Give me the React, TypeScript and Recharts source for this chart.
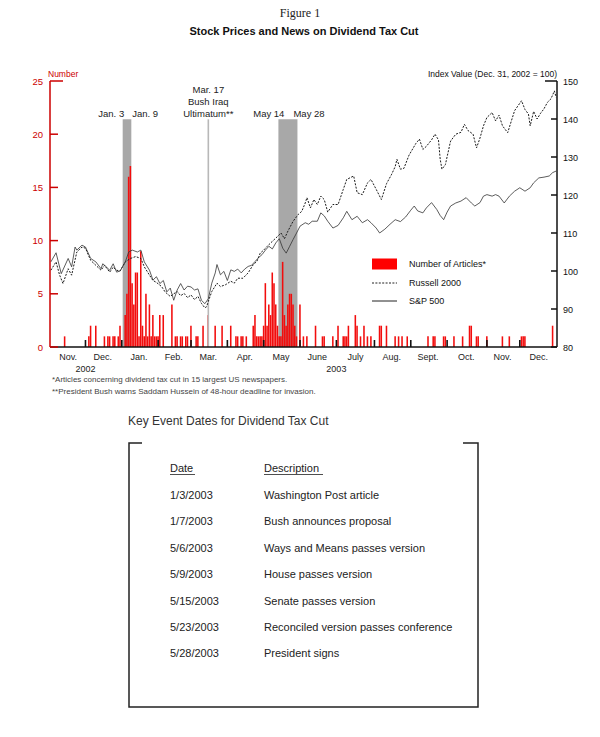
import React from "react";
import {
  ComposedChart,
  Bar,
  Line,
  XAxis,
  YAxis,
  ReferenceArea,
  ReferenceLine,
  Legend,
} from "recharts";

// x axis = trading days, Nov 1 2002 (0) .. Dec 31 2003 (292)
const TRADING_DAYS = 293;
const monthStarts = [0, 20, 41, 62, 81, 102, 123, 144, 165, 187, 208, 229, 252, 271];
const monthMids = [10, 30, 51, 71, 91, 112, 133, 154, 176, 197, 218, 240, 261, 282];
const monthLabels = ["Nov.", "Dec.", "Jan.", "Feb.", "Mar.", "Apr.", "May", "June", "July", "Aug.", "Sept.", "Oct.", "Nov.", "Dec."];
const yearTicks = [20, 165];
const yearLabels = ["2002", "2003"];

const leftTicks = [0, 5, 10, 15, 20, 25];
const rightTicks = [80, 90, 100, 110, 120, 130, 140, 150];

// [trading day, number of articles]
const articleCounts: [number, number][] = [
  [8, 1], [22, 1], [23, 2], [26, 2], [31, 1], [33, 1], [34, 1], [36, 1], [37, 1], [39, 1], [40, 2],
  [43, 3], [44, 5], [45, 16], [46, 17], [47, 6], [48, 4], [49, 7], [50, 7], [51, 1], [52, 9], [53, 2],
  [54, 1], [55, 5], [56, 1], [57, 4], [58, 1], [59, 3], [60, 1], [61, 1], [62, 1], [63, 3], [65, 3],
  [70, 4], [72, 1], [73, 1], [75, 1], [76, 1], [78, 1], [79, 1], [81, 2], [84, 1], [85, 1], [88, 2],
  [91, 3], [95, 2], [99, 2], [104, 2], [107, 1], [108, 1], [110, 1], [111, 1], [113, 1],
  [117, 2], [118, 3], [119, 1], [120, 1], [121, 1], [122, 1], [123, 2], [124, 6], [125, 2], [126, 4],
  [127, 3], [128, 7], [129, 6], [130, 4], [131, 2], [132, 1], [133, 1], [134, 8], [135, 3], [136, 2],
  [137, 4], [138, 5], [139, 5], [140, 4], [141, 2], [142, 1], [144, 4],
  [146, 1], [148, 1], [153, 2], [157, 1], [158, 1], [163, 1], [166, 2], [169, 1], [170, 1], [171, 1],
  [172, 2], [176, 3], [177, 2], [179, 1], [181, 2], [183, 1], [185, 1], [190, 2], [191, 2], [194, 2],
  [199, 1], [201, 1], [203, 1], [206, 1], [218, 1], [221, 1], [222, 1], [227, 1], [228, 1], [233, 1],
  [238, 1], [242, 2], [243, 2], [246, 1], [247, 1], [252, 1], [261, 1], [265, 1], [272, 1], [273, 1],
  [274, 1], [290, 2],
];

// [trading day, index value (Dec 31 2002 = 100)]
const russell2000: [number, number][] = [
  [0, 100.2], [3, 102.4], [5, 99.0], [7, 96.7], [10, 100.6], [12, 98.9], [15, 105.0], [18, 106.3],
  [20, 106.0], [23, 102.8], [26, 101.5], [29, 100.2], [31, 101.5], [34, 99.7], [36, 101.0], [38, 100.2],
  [40, 100.0], [43, 102.4], [46, 103.3], [49, 103.8], [52, 103.3], [54, 101.1], [57, 98.9], [59, 97.5],
  [61, 97.0], [64, 95.9], [66, 94.5], [69, 93.3], [71, 94.0], [73, 94.6], [75, 93.5], [77, 94.1],
  [79, 93.0], [81, 93.7], [83, 92.5], [85, 93.3], [87, 91.5], [89, 90.3], [90, 90.6], [91, 92.0],
  [93, 94.6], [96, 96.8], [98, 95.9], [101, 96.4], [104, 97.3], [106, 96.8], [108, 98.1], [111, 98.1],
  [114, 99.5], [117, 101.7], [119, 102.5], [121, 104.7], [123, 105.5], [125, 106.5], [128, 107.8],
  [131, 109.1], [133, 110.0], [135, 108.5], [137, 110.5], [140, 113.1], [143, 114.9], [145, 115.7],
  [147, 117.9], [148, 119.3], [150, 116.6], [152, 118.8], [154, 117.5], [156, 119.7], [158, 118.8],
  [160, 115.5], [163, 117.5], [166, 117.5], [169, 121.5], [171, 124.1], [175, 125.0], [177, 120.6],
  [180, 120.1], [183, 123.2], [185, 124.1], [188, 121.5], [191, 118.8], [194, 123.0], [197, 125.5],
  [199, 127.5], [200, 129.4], [202, 126.8], [204, 127.0], [207, 130.5], [211, 133.6], [213, 134.7],
  [215, 132.0], [217, 132.8], [220, 134.5], [222, 136.0], [224, 134.5], [225, 129.4], [226, 126.8],
  [228, 128.0], [231, 134.2], [234, 136.0], [237, 136.5], [239, 138.6], [241, 137.0], [244, 136.0],
  [246, 132.4], [248, 135.0], [250, 138.2], [252, 140.4], [255, 141.7], [257, 139.5], [259, 141.0],
  [261, 138.2], [264, 136.4], [266, 139.3], [268, 142.2], [270, 143.5], [272, 144.8], [274, 142.5],
  [276, 141.3], [277, 138.2], [279, 142.0], [281, 140.0], [283, 141.5], [285, 142.7], [287, 144.4],
  [289, 145.3], [291, 147.4], [292, 145.7],
];

const sp500: [number, number][] = [
  [0, 102.4], [3, 104.8], [6, 99.3], [10, 103.3], [12, 101.1], [14, 106.3], [15, 105.5], [18, 106.8],
  [20, 106.3], [23, 103.3], [26, 102.4], [29, 100.6], [30, 101.9], [32, 101.1], [34, 100.2], [36, 101.9],
  [38, 99.7], [40, 100.0], [43, 102.4], [45, 105.0], [47, 105.5], [50, 105.0], [52, 105.5], [54, 102.4],
  [57, 100.2], [59, 97.6], [61, 98.5], [63, 96.7], [65, 97.5], [67, 94.5], [69, 95.5], [71, 92.3],
  [73, 95.0], [75, 96.7], [77, 95.0], [79, 96.0], [81, 95.8], [83, 95.0], [85, 95.3], [87, 92.3],
  [89, 91.4], [91, 92.7], [93, 96.8], [95, 99.5], [96, 101.7], [98, 99.0], [100, 99.9], [102, 97.5],
  [104, 100.3], [106, 99.9], [108, 100.5], [110, 99.5], [112, 100.5], [114, 101.2], [116, 101.5],
  [118, 102.5], [120, 103.5], [122, 104.3], [124, 105.5], [126, 106.5], [128, 105.8], [130, 107.4],
  [132, 108.5], [134, 106.0], [136, 104.7], [138, 106.5], [140, 108.3], [142, 110.0], [144, 111.8],
  [147, 112.7], [149, 112.3], [151, 113.1], [154, 113.1], [156, 115.3], [158, 114.5], [160, 113.1],
  [163, 111.3], [166, 112.0], [169, 114.0], [171, 115.7], [174, 113.5], [177, 114.4], [180, 112.7],
  [183, 113.5], [185, 112.7], [188, 111.3], [190, 110.0], [193, 111.0], [196, 112.3], [199, 113.5],
  [202, 113.0], [205, 114.2], [208, 116.0], [210, 117.1], [212, 115.8], [215, 115.3], [217, 116.6],
  [220, 118.0], [223, 116.2], [225, 114.6], [227, 113.5], [229, 115.5], [231, 117.1], [234, 117.9],
  [237, 118.4], [240, 119.3], [243, 117.9], [245, 117.1], [248, 118.0], [250, 119.7], [252, 120.1],
  [255, 119.7], [257, 120.1], [259, 119.7], [262, 117.9], [265, 119.7], [268, 121.0], [271, 121.9],
  [274, 121.0], [277, 121.9], [279, 123.2], [282, 124.5], [285, 124.7], [288, 125.0], [290, 125.9],
  [292, 126.3],
];

// shaded news windows and the Iraq ultimatum (trading days)
const janWindow = [42, 46];
const mayWindow = [132, 142];
const ultimatumDay = 91;
const shadeTop = 21.4; // in article units

const eventDates = ["1/3/2003", "1/7/2003", "5/6/2003", "5/9/2003", "5/15/2003", "5/23/2003", "5/28/2003"];
const eventDescriptions = [
  "Washington Post article",
  "Bush announces proposal",
  "Ways and Means passes version",
  "House passes version",
  "Senate passes version",
  "Reconciled version passes conference",
  "President signs",
];

type Row = { day: number; articles: number | null; russell: number | null; sp500: number | null };
const chartData: Row[] = Array.from({ length: TRADING_DAYS }, (_, day) => ({
  day,
  articles: null,
  russell: null,
  sp500: null,
}));
articleCounts.forEach(([d, n]) => (chartData[d].articles = n));
russell2000.forEach(([d, v]) => (chartData[d].russell = v));
sp500.forEach(([d, v]) => (chartData[d].sp500 = v));

const RED = "#cc0000";
const FONT = "'Liberation Sans', Arial, Helvetica, sans-serif";

function LeftTick({ x, y, payload }: any) {
  const v = payload.value;
  return (
    <g>
      <line x1={x} x2={x + (v === 25 ? 13 : 8)} y1={y} y2={y} stroke={RED} strokeWidth={1.5} />
      <text x={x - 7} y={y + 3.5} textAnchor="end" fontSize={9.5} fill={RED}>
        {v}
      </text>
    </g>
  );
}

function RightTick({ x, y, payload }: any) {
  const v = payload.value;
  return (
    <g>
      <line x1={x} x2={x - (v === 150 ? 12 : 6)} y1={y} y2={y} stroke="#111" strokeWidth={1.5} />
      <text x={x + 6} y={y + 3.5} textAnchor="start" fontSize={9} fill="#111">
        {v}
      </text>
    </g>
  );
}

function MonthTick({ x, y, payload }: any) {
  const v = payload.value as number;
  const mi = monthMids.indexOf(v);
  const yi = yearTicks.indexOf(v);
  return (
    <g>
      {monthStarts.includes(v) && v > 0 && (
        <line x1={x} x2={x} y1={y} y2={y - 7} stroke="#111" strokeWidth={1.6} />
      )}
      {mi >= 0 && (
        <text x={x} y={y + 12.5} textAnchor="middle" fontSize={9} fill="#222">
          {monthLabels[mi]}
        </text>
      )}
      {yi >= 0 && (
        <text x={x} y={y + 24.5} textAnchor="middle" fontSize={9} fill="#222">
          {yearLabels[yi]}
        </text>
      )}
    </g>
  );
}

const windowLabel = (left: string, right: string, dl: number, dr: number) => (p: any) => {
  const vb = p.viewBox;
  if (!vb) return null;
  return (
    <g fontSize={9.5} fill="#222">
      <text x={vb.x + dl} y={vb.y - 2} textAnchor="end">
        {left}
      </text>
      <text x={vb.x + vb.width + dr} y={vb.y - 2} textAnchor="start">
        {right}
      </text>
    </g>
  );
};

const ultimatumLabel = (p: any) => {
  const vb = p.viewBox;
  if (!vb) return null;
  return (
    <g fontSize={9.5} fill="#222" textAnchor="middle">
      <text x={vb.x} y={vb.y - 26}>Mar. 17</text>
      <text x={vb.x} y={vb.y - 14}>Bush Iraq</text>
      <text x={vb.x} y={vb.y - 2}>Ultimatum**</text>
    </g>
  );
};

function LegendBox({ payload }: any) {
  return (
    <div style={{ fontSize: 9, color: "#111", fontFamily: FONT }}>
      {(payload || []).map((e: any) => {
        const dash = e.payload?.strokeDasharray;
        return (
          <div key={e.value} style={{ display: "flex", alignItems: "center", height: 18.5 }}>
            <svg width={26} height={12}>
              {e.type === "rect" ? (
                <rect x={0} y={0.5} width={25} height={11} fill="#ff0000" />
              ) : (
                <line x1={0} x2={25} y1={6} y2={6} stroke="#222" strokeWidth={1} strokeDasharray={dash} />
              )}
            </svg>
            <span style={{ marginLeft: 11 }}>{e.value}</span>
          </div>
        );
      })}
    </div>
  );
}

export default function App() {
  const rowY = (i: number) => 499 + i * 26.4;
  return (
    <div style={{ position: "relative", width: 600, height: 737, background: "#fff", fontFamily: FONT }}>
      <style>{"body{margin:0;}"}</style>
      <div style={{ position: "absolute", left: 0, top: 0 }}>
        <ComposedChart
          width={600}
          height={400}
          data={chartData}
          margin={{ top: 81, right: 3, bottom: 23, left: 30 }}
          barCategoryGap={0}
          barGap={0}
        >
          <XAxis
            dataKey="day"
            xAxisId="x"
            ticks={[...monthStarts, ...monthMids].sort((a, b) => a - b)}
            interval={0}
            tick={<MonthTick />}
            tickLine={false}
            tickSize={0}
            tickMargin={0}
            height={30}
            axisLine={{ stroke: "#111", strokeWidth: 1.5 }}
          />
          <YAxis
            yAxisId="left"
            orientation="left"
            domain={[0, 25]}
            ticks={leftTicks}
            width={20}
            tick={<LeftTick />}
            tickLine={false}
            tickSize={0}
            tickMargin={0}
            axisLine={{ stroke: RED, strokeWidth: 1.5 }}
            allowDataOverflow
          />
          <YAxis
            yAxisId="right"
            orientation="right"
            domain={[80, 150]}
            ticks={rightTicks}
            width={40}
            tick={<RightTick />}
            tickLine={false}
            tickSize={0}
            tickMargin={0}
            axisLine={{ stroke: "#111", strokeWidth: 1.5 }}
            allowDataOverflow
          />
          <ReferenceArea
            xAxisId="x"
            yAxisId="left"
            x1={janWindow[0]}
            x2={janWindow[1]}
            y1={0}
            y2={shadeTop}
            fill="#a8a8a8"
            fillOpacity={1}
            stroke="none"
            label={windowLabel("Jan. 3", "Jan. 9", 1.5, 0.8)}
          />
          <ReferenceArea
            xAxisId="x"
            yAxisId="left"
            x1={mayWindow[0]}
            x2={mayWindow[1]}
            y1={0}
            y2={shadeTop}
            fill="#a8a8a8"
            fillOpacity={1}
            stroke="none"
            label={windowLabel("May 14", "May 28", 6, -4)}
          />
          <ReferenceLine
            xAxisId="x"
            yAxisId="left"
            segment={[
              { x: ultimatumDay, y: 0 },
              { x: ultimatumDay, y: shadeTop },
            ]}
            stroke="#b8b8b8"
            strokeWidth={1.6}
            label={ultimatumLabel}
          />
          <Bar
            xAxisId="x"
            yAxisId="left"
            dataKey="articles"
            name="Number of Articles*"
            fill="#f20d0d"
            barSize={1.75}
            isAnimationActive={false}
            legendType="rect"
          />
          <Line
            xAxisId="x"
            yAxisId="right"
            dataKey="russell"
            name="Russell 2000"
            type="linear"
            stroke="#1a1a1a"
            strokeWidth={1}
            strokeDasharray="2 1.4"
            dot={false}
            connectNulls
            isAnimationActive={false}
          />
          <Line
            xAxisId="x"
            yAxisId="right"
            dataKey="sp500"
            name="S&P 500"
            type="linear"
            stroke="#333"
            strokeWidth={0.8}
            dot={false}
            connectNulls
            isAnimationActive={false}
          />
          <Legend
            layout="vertical"
            align="center"
            verticalAlign="middle"
            content={<LegendBox />}
            wrapperStyle={{ left: 372, top: 255, width: 150 }}
          />
        </ComposedChart>
      </div>
      <svg
        width={600}
        height={737}
        style={{ position: "absolute", left: 0, top: 0, pointerEvents: "none" }}
        fontFamily={FONT}
      >
        <text x={300} y={17} textAnchor="middle" fontSize={12} fontFamily="'Liberation Serif', 'Times New Roman', serif" fill="#222">
          Figure 1
        </text>
        <text x={304} y={35} textAnchor="middle" fontSize={11} fontWeight="bold" fill="#111">
          Stock Prices and News on Dividend Tax Cut
        </text>
        <text x={48} y={77} fontSize={8.5} fill={RED}>
          Number
        </text>
        <text x={557} y={77} textAnchor="end" fontSize={8.5} fill="#111">
          Index Value (Dec. 31, 2002 = 100)
        </text>
        <text x={52} y={382} fontSize={8} fill="#444">
          *Articles concerning dividend tax cut in 15 largest US newspapers.
        </text>
        <text x={52} y={394} fontSize={8} fill="#444">
          **President Bush warns Saddam Hussein of 48-hour deadline for invasion.
        </text>

        <text x={128} y={425} fontSize={12} fill="#333">
          Key Event Dates for Dividend Tax Cut
        </text>
        <path d="M142,443 H129 V707 H478 V443 H463" fill="none" stroke="#222" strokeWidth={1.5} />
        <text x={170} y={472} fontSize={11} fill="#222">
          Date
        </text>
        <line x1={170} x2={195} y1={474.5} y2={474.5} stroke="#222" strokeWidth={0.8} />
        <text x={264} y={472} fontSize={11} fill="#222">
          Description
        </text>
        <line x1={264} x2={323} y1={474.5} y2={474.5} stroke="#222" strokeWidth={0.8} />
        {eventDates.map((d, i) => (
          <g key={d} fontSize={11} fill="#222">
            <text x={170} y={rowY(i)}>{d}</text>
            <text x={264} y={rowY(i)}>{eventDescriptions[i]}</text>
          </g>
        ))}
      </svg>
    </div>
  );
}
